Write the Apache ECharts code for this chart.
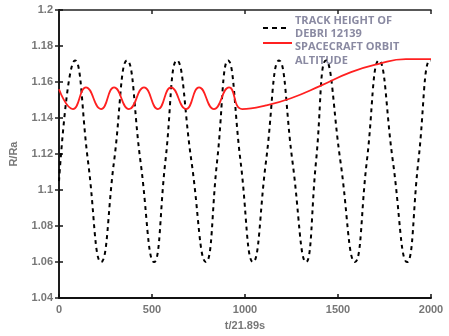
<!DOCTYPE html>
<html><head><meta charset="utf-8">
<script src="https://cdn.jsdelivr.net/npm/echarts@6/dist/echarts.min.js"></script>
<style>html,body{margin:0;padding:0;background:#fff}#c{width:449px;height:336px}</style>
</head><body><div id="c"></div>
<script>
var xTickLabels = ['0','500','1000','1500','2000'];
var yTickLabels = ['1.04','1.06','1.08','1.1','1.12','1.14','1.16','1.18','1.2'];
var legendLines = [['TRACK HEIGHT OF','DEBRI 12139'], ['SPACECRAFT ORBIT','ALTITUDE']];
var seriesNames = ['Debri 12139', 'Spacecraft'];
var debriT = [0,86,156,226,296,366,438,511,572,634,712,790,850,909,976,1043,1113,1183,1255,1328,1382,1435,1513,1591,1655,1720,1795,1871,1932,1994,2000];
var debriH = [1.105,1.172,1.116,1.06,1.116,1.172,1.116,1.06,1.116,1.172,1.116,1.06,1.116,1.172,1.116,1.06,1.116,1.172,1.116,1.06,1.116,1.172,1.116,1.06,1.116,1.172,1.116,1.06,1.116,1.172,1.172];
var craftT = [0,75,145,226,296,376,457,532,602,683,753,833,914,985,1113,1247,1408,1570,1715,1865,2000];
var craftH = [1.156,1.145,1.157,1.145,1.157,1.145,1.157,1.145,1.157,1.145,1.157,1.145,1.157,1.145,1.147,1.151,1.158,1.1655,1.170,1.1727,1.1727];

function zip(a,b){return a.map(function(v,i){return [v,b[i]];});}
var chart = echarts.init(document.getElementById('c'));
var labelStyle = {color:'#777', fontFamily:'Liberation Sans', fontSize:11, fontWeight:'bold'};
function txt(s,x,y){return {type:'text', left:x, top:y-4, style:{text:s, fill:'#8a8aa2', font:'bold 11px "Open Sans"'}};}
chart.setOption({
  animation:false,
  grid:{left:58,right:18,top:10,bottom:33},
  graphic:[
    {type:'line', shape:{x1:263,y1:28,x2:290,y2:28}, style:{stroke:'#000', lineWidth:2, lineDash:[5,4]}},
    {type:'line', shape:{x1:263,y1:43,x2:292,y2:43}, style:{stroke:'#ff2020', lineWidth:2}},
    txt(legendLines[0][0],295,19), txt(legendLines[0][1],295,32),
    txt(legendLines[1][0],295,45), txt(legendLines[1][1],295,59)
  ],
  xAxis:[{
    type:'value', min:0, max:2000, interval:500, position:'bottom',
    name:'t/21.89s', nameLocation:'middle', nameGap:20,
    nameTextStyle:labelStyle,
    axisLine:{lineStyle:{color:'#111',width:2}},
    axisTick:{inside:true,length:4,lineStyle:{color:'#111',width:1.5}},
    axisLabel:Object.assign({margin:6, formatter:function(v,i){return xTickLabels[i];}},labelStyle),
    splitLine:{show:false}
  },{
    type:'value', min:0, max:2000, interval:500, position:'top',
    axisLine:{lineStyle:{color:'#222',width:1.5}},
    axisTick:{inside:true,length:4,lineStyle:{color:'#222',width:1.5}},
    axisLabel:{show:false}, splitLine:{show:false}
  }],
  yAxis:[{
    type:'value', min:1.04, max:1.2, interval:0.02, position:'left',
    name:'R/Ra', nameLocation:'middle', nameGap:40, nameRotate:90,
    nameTextStyle:labelStyle,
    axisLine:{show:true,lineStyle:{color:'#111',width:2}},
    axisTick:{show:true,inside:true,length:4,lineStyle:{color:'#111',width:1.5}},
    axisLabel:Object.assign({margin:6, formatter:function(v,i){return yTickLabels[i];}},labelStyle),
    splitLine:{show:false}
  },{
    type:'value', min:1.04, max:1.2, interval:0.02, position:'right',
    axisLine:{show:true,lineStyle:{color:'#222',width:1.5}},
    axisTick:{show:true,inside:true,length:4,lineStyle:{color:'#222',width:1.5}},
    axisLabel:{show:false}, splitLine:{show:false}
  }],
  series:[{
    name:seriesNames[0], type:'line', data:zip(debriT,debriH), smooth:0.5, symbol:'none',
    lineStyle:{color:'#000', width:2, type:[4,4]}, itemStyle:{color:'#000'}, z:2
  },{
    name:seriesNames[1], type:'line', data:zip(craftT,craftH), smooth:0.5, symbol:'none',
    lineStyle:{color:'#ff2020', width:1.8}, itemStyle:{color:'#ff2020'}, z:3
  }]
});
</script></body></html>
